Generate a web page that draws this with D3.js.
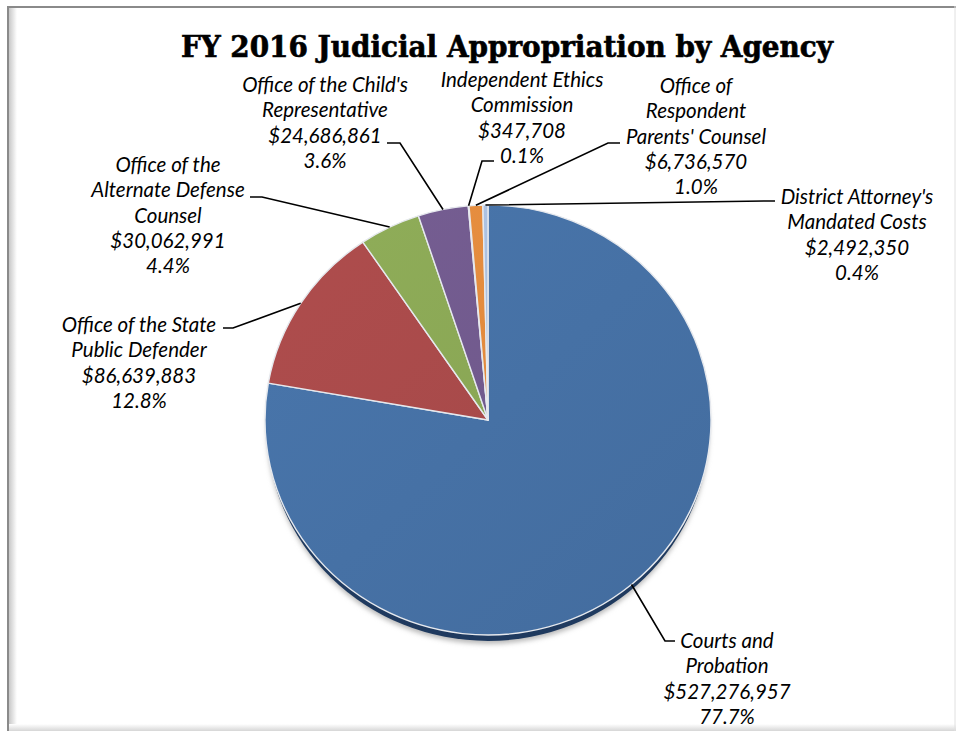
<!DOCTYPE html>
<html><head><meta charset="utf-8">
<script src="https://cdn.jsdelivr.net/npm/d3@7"></script>
<style>
html,body{margin:0;padding:0;background:#fff;}
svg{display:block;}
</style></head>
<body>
<svg id="chart" width="956" height="731"></svg>
<script>
// ---- data ----
const categories = [
  "Courts and Probation",
  "Office of the State Public Defender",
  "Office of the Alternate Defense Counsel",
  "Office of the Child's Representative",
  "Independent Ethics Commission",
  "Office of Respondent Parents' Counsel",
  "District Attorney's Mandated Costs"
];
const values = [527276957, 86639883, 30062991, 24686861, 347708, 6736570, 2492350];
const percentLabels = ["77.7%", "12.8%", "4.4%", "3.6%", "0.1%", "1.0%", "0.4%"];
const labelLines = [
  ["Courts and", "Probation"],
  ["Office of the State", "Public Defender"],
  ["Office of the", "Alternate Defense", "Counsel"],
  ["Office of the Child's", "Representative"],
  ["Independent Ethics", "Commission"],
  ["Office of", "Respondent", "Parents' Counsel"],
  ["District Attorney's", "Mandated Costs"]
];
const colors = ["#4671a5", "#a84a4a", "#8aa755", "#715a8d", "#9fc6d6", "#e08a3d", "#a9bedc"];

// ---- layout (positions only) ----
const W = 956, H = 731;
const cx = 488, cy = 420, R = 223, yScale = 0.964;
// label anchor: text centre x, first line y; leader elbow and end
const labelLayout = [
  {x: 727, y: 648, elbow: [665, 641], end: [675, 641]},
  {x: 139, y: 332, elbow: [233, 328], end: [223, 328]},
  {x: 168, y: 172, elbow: [262, 197], end: [250, 197]},
  {x: 325, y: 92,  elbow: [400, 143], end: [387, 143]},
  {x: 522, y: 87,  elbow: [482, 161], end: [494, 161]},
  {x: 696, y: 93,  elbow: [608, 143], end: [620, 143]},
  {x: 857, y: 204, elbow: [766, 201], end: [775, 201]}
];

const svg = d3.select("#chart");
const defs = svg.append("defs");

// frame shading
const lg = defs.append("linearGradient").attr("id", "leftShade").attr("x1", 0).attr("x2", 1);
lg.append("stop").attr("offset", 0).attr("stop-color", "#c8c8c8");
lg.append("stop").attr("offset", 1).attr("stop-color", "#ffffff");
const bg = defs.append("linearGradient").attr("id", "botShade").attr("x1", 0).attr("x2", 0).attr("y1", 0).attr("y2", 1);
bg.append("stop").attr("offset", 0).attr("stop-color", "#ffffff");
bg.append("stop").attr("offset", 1).attr("stop-color", "#d6d6d6");

svg.append("rect").attr("x", 0).attr("y", 0).attr("width", W).attr("height", H).attr("fill", "#fff");
svg.append("rect").attr("x", 9).attr("y", 8).attr("width", 8).attr("height", H - 8).attr("fill", "url(#leftShade)");
svg.append("rect").attr("x", 7).attr("y", H - 7).attr("width", W - 7).attr("height", 7).attr("fill", "url(#botShade)");
svg.append("line").attr("x1", 7).attr("x2", W).attr("y1", 7).attr("y2", 7).attr("stroke", "#8a8a8a").attr("stroke-width", 2);
svg.append("line").attr("x1", 8).attr("x2", 8).attr("y1", 6).attr("y2", H).attr("stroke", "#8a8a8a").attr("stroke-width", 2);
svg.append("line").attr("x1", W - 1).attr("x2", W - 1).attr("y1", 6).attr("y2", H).attr("stroke", "#e0e0e0").attr("stroke-width", 1);

// title
svg.append("text")
  .attr("x", 507).attr("y", 57)
  .attr("text-anchor", "middle")
  .attr("font-family", "'DejaVu Serif Condensed', 'DejaVu Serif', serif")
  .attr("font-weight", "bold")
  .attr("font-size", 30)
  .attr("textLength", 652).attr("lengthAdjust", "spacingAndGlyphs")
  .attr("stroke", "#000").attr("stroke-width", 0.6)
  .attr("fill", "#000")
  .text("FY 2016 Judicial Appropriation by Agency");

// pie
const pie = d3.pie().sort(null).value(d => d)(values);
const arc = d3.arc().innerRadius(0).outerRadius(R);

// shadow
const blur = defs.append("filter").attr("id", "blur").attr("x", "-10%").attr("y", "-10%").attr("width", "120%").attr("height", "130%");
blur.append("feGaussianBlur").attr("stdDeviation", 2.5);
svg.append("ellipse").attr("cx", cx).attr("cy", cy + 9).attr("rx", R - 2).attr("ry", R * yScale)
  .attr("fill", "#b8b8b8").attr("filter", "url(#blur)");
svg.append("ellipse").attr("cx", cx).attr("cy", cy + 6).attr("rx", R - 1.5).attr("ry", R * yScale)
  .attr("fill", "#1f3a5f");

// gradients per slice
colors.forEach((c, i) => {
  const g = defs.append("linearGradient").attr("id", "grad" + i)
    .attr("gradientUnits", "userSpaceOnUse")
    .attr("x1", -R).attr("y1", -R).attr("x2", R).attr("y2", R);
  g.append("stop").attr("offset", 0).attr("stop-color", d3.color(c).brighter(0.12));
  g.append("stop").attr("offset", 1).attr("stop-color", d3.color(c).darker(0.12));
});

const pg = svg.append("g").attr("transform", `translate(${cx},${cy}) scale(1,${yScale})`);
pg.selectAll("path.slice").data(pie).join("path")
  .attr("class", "slice")
  .attr("d", arc)
  .attr("fill", (d, i) => `url(#grad${i})`)
  .attr("stroke", "#e6e9ee")
  .attr("stroke-width", 1.4)
  .attr("stroke-linejoin", "round");

// leader lines
function edgePoint(d) {
  const a = (d.startAngle + d.endAngle) / 2;
  return [cx + R * Math.sin(a), cy - R * yScale * Math.cos(a)];
}
svg.append("g").selectAll("path.leader").data(pie).join("path")
  .attr("class", "leader")
  .attr("d", (d, i) => {
    const p = edgePoint(d), L = labelLayout[i];
    return d3.line()([p, L.elbow, L.end]);
  })
  .attr("fill", "none").attr("stroke", "#000").attr("stroke-width", 1.6);

// labels
const fmt = d3.format("$,");
const lab = svg.append("g").selectAll("text.lab").data(pie).join("text")
  .attr("class", "lab")
  .attr("text-anchor", "middle")
  .attr("font-family", "Lato, 'Open Sans', sans-serif")
  .attr("font-style", "italic")
  .attr("font-size", 20.5)
  .attr("fill", "#000");
lab.each(function (d, i) {
  const L = labelLayout[i];
  const lines = labelLines[i].concat([fmt(values[i]), percentLabels[i]]);
  d3.select(this).selectAll("tspan").data(lines).join("tspan")
    .attr("x", L.x).attr("y", (t, j) => L.y + j * 25.3)
    .text(t => t);
});
</script>
</body></html>
